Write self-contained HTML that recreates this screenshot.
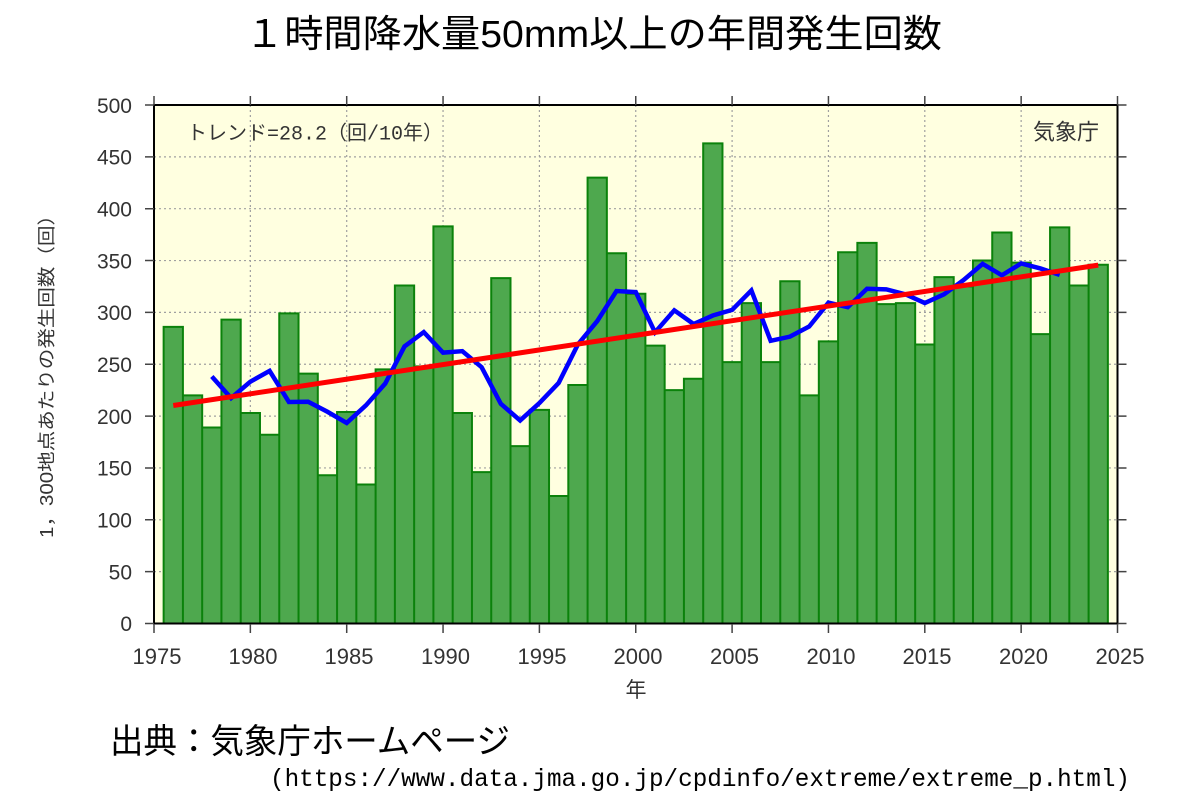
<!DOCTYPE html>
<html>
<head>
<meta charset="utf-8">
<style>
html,body{margin:0;padding:0;background:#fff;}
svg{display:block;}
</style>
</head>
<body>
<svg width="1200" height="800" viewBox="0 0 1200 800" xmlns="http://www.w3.org/2000/svg">
<rect width="1200" height="800" fill="#ffffff"/>
<text x="245" y="47" font-size="38" textLength="697" lengthAdjust="spacingAndGlyphs" font-family="'Liberation Sans','Noto Sans CJK JP',sans-serif" fill="#000">１時間降水量50mm以上の年間発生回数</text>

<rect x="154" y="105" width="963.5" height="518.5" fill="#ffffe0"/>

<path fill="none" stroke="#a0a0a0" stroke-width="1.2" stroke-dasharray="2,3"
d="M250.35 105V623.5M346.7 105V623.5M443.05 105V623.5M539.4 105V623.5M635.75 105V623.5M732.1 105V623.5M828.45 105V623.5M924.8 105V623.5M1021.15 105V623.5M154 571.65H1117.5M154 519.8H1117.5M154 467.95H1117.5M154 416.1H1117.5M154 364.25H1117.5M154 312.4H1117.5M154 260.55H1117.5M154 208.7H1117.5M154 156.85H1117.5"/>

<g transform="translate(154,623.5) scale(19.27,-1.037)">
<path fill="#4ea84e" stroke="#0b820b" stroke-width="2" vector-effect="non-scaling-stroke"
d="M0.5 0v286h1v-286z M1.5 0v220h1v-220z M2.5 0v189h1v-189z M3.5 0v293h1v-293z M4.5 0v203h1v-203z M5.5 0v182h1v-182z M6.5 0v299h1v-299z M7.5 0v241h1v-241z M8.5 0v143h1v-143z M9.5 0v204h1v-204z M10.5 0v134h1v-134z M11.5 0v245h1v-245z M12.5 0v326h1v-326z M13.5 0v248h1v-248z M14.5 0v383h1v-383z M15.5 0v203h1v-203z M16.5 0v146h1v-146z M17.5 0v333h1v-333z M18.5 0v171h1v-171z M19.5 0v206h1v-206z M20.5 0v123h1v-123z M21.5 0v230h1v-230z M22.5 0v430h1v-430z M23.5 0v357h1v-357z M24.5 0v318h1v-318z M25.5 0v268h1v-268z M26.5 0v225h1v-225z M27.5 0v236h1v-236z M28.5 0v463h1v-463z M29.5 0v252h1v-252z M30.5 0v309h1v-309z M31.5 0v252h1v-252z M32.5 0v330h1v-330z M33.5 0v220h1v-220z M34.5 0v272h1v-272z M35.5 0v358h1v-358z M36.5 0v367h1v-367z M37.5 0v308h1v-308z M38.5 0v309h1v-309z M39.5 0v269h1v-269z M40.5 0v334h1v-334z M41.5 0v325h1v-325z M42.5 0v350h1v-350z M43.5 0v377h1v-377z M44.5 0v348h1v-348z M45.5 0v279h1v-279z M46.5 0v382h1v-382z M47.5 0v326h1v-326z M48.5 0v346h1v-346z"/>
<polyline fill="none" stroke="#0000ff" stroke-width="4.5" vector-effect="non-scaling-stroke"
points="3,238.2 4,217.4 5,233.2 6,243.6 7,213.6 8,213.8 9,204.2 10,193.4 11,210.4 12,231.4 13,267.2 14,281 15,261.2 16,262.6 17,247.2 18,211.8 19,195.8 20,212.6 21,232 22,269.2 23,291.6 24,320.6 25,319.6 26,280.8 27,302 28,288.8 29,297 30,302.4 31,321.2 32,272.6 33,276.6 34,286.4 35,309.4 36,305 37,322.8 38,322.2 39,317.4 40,309 41,317.4 42,331 43,346.8 44,335.8 45,347.2 46,342.4 47,336.2"/>
<line x1="1" y1="210.2" x2="49" y2="345.6" stroke="#ff0000" stroke-width="5" vector-effect="non-scaling-stroke"/>
</g>

<rect x="154" y="105" width="963.5" height="518.5" fill="none" stroke="#000" stroke-width="2"/>

<path fill="none" stroke="#444" stroke-width="1.5"
d="M154 624v9M250.35 624v9M346.7 624v9M443.05 624v9M539.4 624v9M635.75 624v9M732.1 624v9M828.45 624v9M924.8 624v9M1021.15 624v9M1117.5 624v9
M154 96v9M250.35 96v9M346.7 96v9M443.05 96v9M539.4 96v9M635.75 96v9M732.1 96v9M828.45 96v9M924.8 96v9M1021.15 96v9M1117.5 96v9
M145 623.5h9M145 571.65h9M145 519.8h9M145 467.95h9M145 416.1h9M145 364.25h9M145 312.4h9M145 260.55h9M145 208.7h9M145 156.85h9M145 105h9
M1117.5 623.5h9M1117.5 571.65h9M1117.5 519.8h9M1117.5 467.95h9M1117.5 416.1h9M1117.5 364.25h9M1117.5 312.4h9M1117.5 260.55h9M1117.5 208.7h9M1117.5 156.85h9M1117.5 105h9"/>

<g font-family="'Liberation Sans',sans-serif" font-size="21" fill="#333" text-anchor="end">
<text x="132" y="631">0</text>
<text x="132" y="579.5">50</text>
<text x="132" y="527.5">100</text>
<text x="132" y="475.5">150</text>
<text x="132" y="424">200</text>
<text x="132" y="372">250</text>
<text x="132" y="320">300</text>
<text x="132" y="268.5">350</text>
<text x="132" y="216.5">400</text>
<text x="132" y="164.5">450</text>
<text x="132" y="113">500</text>
</g>

<g font-family="'Liberation Sans',sans-serif" font-size="22" fill="#333" text-anchor="middle">
<text x="157" y="664">1975</text>
<text x="253" y="664">1980</text>
<text x="349" y="664">1985</text>
<text x="445.5" y="664">1990</text>
<text x="542" y="664">1995</text>
<text x="638" y="664">2000</text>
<text x="734.5" y="664">2005</text>
<text x="831" y="664">2010</text>
<text x="927" y="664">2015</text>
<text x="1023.5" y="664">2020</text>
<text x="1120" y="664">2025</text>
</g>

<text x="636" y="697" font-size="21" text-anchor="middle" font-family="'Liberation Sans','Noto Sans CJK JP',sans-serif" fill="#333">年</text>
<text transform="translate(53,371.5) rotate(-90)" font-size="18" text-anchor="middle" textLength="333" lengthAdjust="spacingAndGlyphs" font-family="'Liberation Sans','Noto Sans CJK JP',sans-serif" fill="#333">1，300地点あたりの発生回数（回）</text>

<text x="187" y="139.5" font-size="20" textLength="256" lengthAdjust="spacingAndGlyphs" font-family="'Liberation Mono','Noto Sans CJK JP',monospace" fill="#333">トレンド=28.2（回/10年）</text>
<text x="1033" y="139.5" font-size="22" textLength="66" lengthAdjust="spacingAndGlyphs" font-family="'Liberation Sans','Noto Sans CJK JP',sans-serif" fill="#333">気象庁</text>

<text x="110" y="753" font-size="34" textLength="400" lengthAdjust="spacingAndGlyphs" font-family="'Liberation Sans','Noto Sans CJK JP',sans-serif" fill="#000">出典：気象庁ホームページ</text>
<text x="270" y="786" font-size="25" textLength="860" lengthAdjust="spacingAndGlyphs" font-family="'Liberation Mono','Noto Sans CJK JP',monospace" fill="#000">(https://www.data.jma.go.jp/cpdinfo/extreme/extreme_p.html)</text>
</svg>
</body>
</html>
